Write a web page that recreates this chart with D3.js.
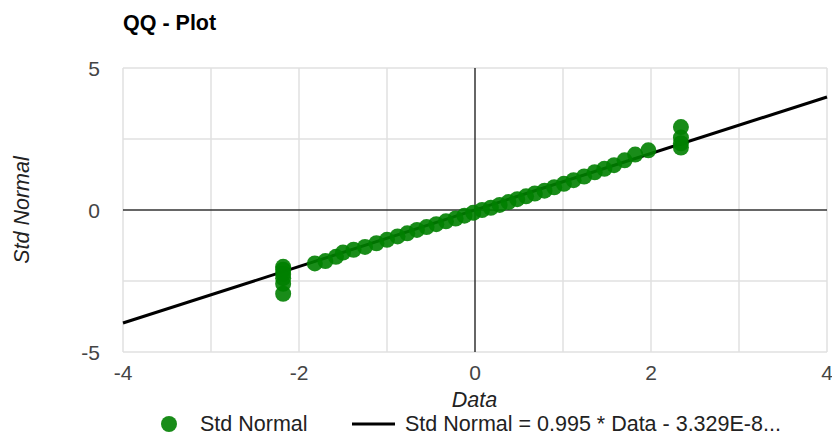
<!DOCTYPE html>
<html><head><meta charset="utf-8">
<script src="https://cdn.jsdelivr.net/npm/d3@7"></script>
<style>body{margin:0;background:#fff;font-family:Arial,"Liberation Sans",sans-serif;}</style>
</head><body><svg id="c" width="832" height="436"></svg>
<script>
const title = "QQ - Plot";
const xTicks = [-4, -2, 0, 2, 4];
const yTicks = [-5, 0, 5];
const xGrid = [-4, -3, -2, -1, 0, 1, 2, 3, 4];
const yGrid = [-5, -2.5, 0, 2.5, 5];
const dataX = [-2.18,-2.18,-2.18,-2.18,-2.18,-2.18,
  -1.82,-1.7,-1.58,-1.5,-1.38,-1.25,-1.12,-1.0,-0.88,-0.77,-0.66,-0.55,-0.44,-0.33,-0.22,-0.12,-0.02,0.08,0.18,0.28,0.38,0.48,0.58,0.68,0.79,0.9,1.01,1.12,1.24,1.36,1.47,1.58,1.7,1.82,1.97,
  2.34,2.34,2.34,2.34];
const stdNormal = [-2.0,-2.1,-2.25,-2.4,-2.6,-2.95,
  -1.88,-1.8,-1.65,-1.5,-1.4,-1.3,-1.17,-1.05,-0.93,-0.82,-0.7,-0.6,-0.5,-0.4,-0.3,-0.2,-0.1,0.0,0.08,0.18,0.28,0.38,0.48,0.58,0.68,0.8,0.92,1.05,1.18,1.33,1.45,1.58,1.75,1.95,2.1,
  2.2,2.35,2.55,2.92];
const slope = 0.995, intercept = -3.329e-8;
const legendLabels = ["Std Normal", "Std Normal = 0.995 * Data - 3.329E-8..."];

const svg = d3.select("#c");
const x = d3.scaleLinear().domain([-4, 4]).range([123, 827]);
const y = d3.scaleLinear().domain([-5, 5]).range([352, 68]);

svg.append("text").attr("x", 123).attr("y", 30).attr("font-size", 21.5).attr("font-weight", "bold").attr("fill", "#000").text(title);

const g = svg.append("g");
g.selectAll(".vg").data(xGrid.filter(d => d !== 0)).join("line")
  .attr("x1", d => x(d)).attr("x2", d => x(d)).attr("y1", y(5)).attr("y2", y(-5))
  .attr("stroke", "#e0e0e0").attr("stroke-width", 1.5);
g.selectAll(".hg").data(yGrid.filter(d => d !== 0)).join("line")
  .attr("y1", d => y(d)).attr("y2", d => y(d)).attr("x1", x(-4)).attr("x2", x(4))
  .attr("stroke", "#e0e0e0").attr("stroke-width", 1.5);
g.append("line").attr("x1", x(0)).attr("x2", x(0)).attr("y1", y(5)).attr("y2", y(-5)).attr("stroke", "#333").attr("stroke-width", 1.5);
g.append("line").attr("y1", y(0)).attr("y2", y(0)).attr("x1", x(-4)).attr("x2", x(4)).attr("stroke", "#333").attr("stroke-width", 1.5);

svg.selectAll(".xt").data(xTicks).join("text")
  .attr("x", d => x(d)).attr("y", 380).attr("text-anchor", "middle").attr("font-size", 21).attr("fill", "#444").text(d => d);
svg.selectAll(".yt").data(yTicks).join("text")
  .attr("x", 100).attr("y", d => y(d) + 8).attr("text-anchor", "end").attr("font-size", 21).attr("fill", "#444").text(d => d);

svg.append("text").attr("x", x(0) - 0.5).attr("y", 407).attr("text-anchor", "middle").attr("font-size", 21.5).attr("font-style", "italic").attr("fill", "#222").text("Data");
svg.append("text").attr("transform", `translate(29,${y(0)}) rotate(-90)`).attr("text-anchor", "middle").attr("font-size", 21.5).attr("font-style", "italic").attr("fill", "#222").text("Std Normal");

const line = d3.line().x(d => x(d)).y(d => y(slope * d + intercept));
svg.append("path").attr("d", line([-4, 4])).attr("stroke", "#000").attr("stroke-width", 3).attr("fill", "none");

const pts = dataX.map((d, i) => ({x: d, y: stdNormal[i]}));
svg.append("g").selectAll("circle").data(pts).join("circle")
  .attr("cx", d => x(d.x)).attr("cy", d => y(d.y)).attr("r", 8)
  .attr("fill", "green").attr("fill-opacity", 0.9);

const lg = svg.append("g");
lg.append("circle").attr("cx", 169).attr("cy", 424).attr("r", 8).attr("fill", "green").attr("fill-opacity", 0.9);
lg.append("text").attr("x", 200).attr("y", 431).attr("font-size", 21.5).attr("fill", "#222").text(legendLabels[0]);
lg.append("line").attr("x1", 352).attr("x2", 395).attr("y1", 424).attr("y2", 424).attr("stroke", "#000").attr("stroke-width", 3);
lg.append("text").attr("x", 405).attr("y", 431).attr("font-size", 21.5).attr("fill", "#222").text(legendLabels[1]);
</script></body></html>
